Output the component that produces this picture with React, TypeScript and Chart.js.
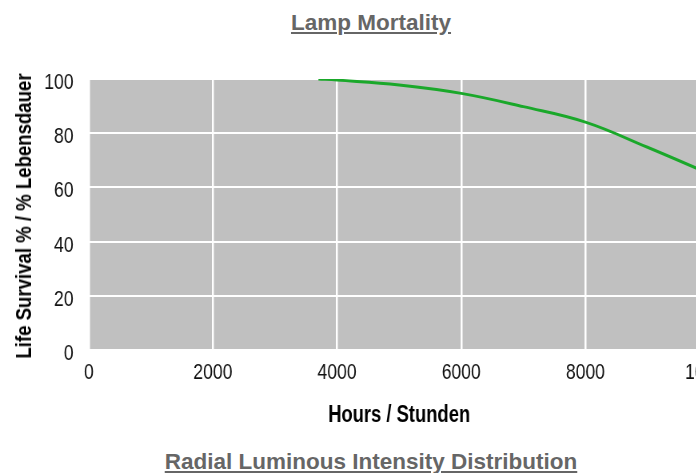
import React, { useEffect, useRef } from "react";
import { Chart, registerables } from "chart.js";

Chart.register(...registerables);

const pageTitle = "Lamp Mortality";
const nextTitle = "Radial Luminous Intensity Distribution";
const xTitle = "Hours / Stunden";
const yTitle = "Life Survival % / % Lebensdauer";

const hours = [3700, 4000, 5000, 6000, 7000, 8000, 9000, 10000];
const survival = [100, 99.6, 97.8, 94.7, 89.8, 84.1, 74.8, 65];

const xMin = 0;
const xMax = 10000;
const xStep = 2000;
const yMin = 0;
const yMax = 100;
const yStep = 20;

// The original chart image uses a condensed face; we draw the canvas wider
// internally and display it narrower to reproduce that look.
const CSS_W = 742;
const CSS_H = 440;
const SQUEEZE = 0.8;
const INT_W = Math.round(CSS_W / SQUEEZE);

const SANS = '"Liberation Sans", Arial, Helvetica, sans-serif';

const plotBg = {
  id: "plotBg",
  beforeDraw(chart: any) {
    const { ctx, chartArea } = chart;
    if (!chartArea) return;
    ctx.save();
    ctx.fillStyle = "#c0c0c0";
    ctx.fillRect(chartArea.left, chartArea.top, chartArea.right - chartArea.left, chartArea.bottom - chartArea.top);
    ctx.restore();
  },
};

export default function App() {
  const ref = useRef<HTMLCanvasElement | null>(null);

  useEffect(() => {
    if (!ref.current) return;
    const points = hours.map((h, i) => ({ x: h, y: survival[i] }));
    const chart = new Chart(ref.current, {
      type: "line",
      data: {
        datasets: [
          {
            data: points,
            borderColor: "#1aa82a",
            borderWidth: 3,
            pointRadius: 0,
            fill: false,
            tension: 0.4,
          },
        ],
      },
      options: {
        animation: false,
        responsive: false,
        devicePixelRatio: 1,
        layout: { padding: { top: 79, right: 35, left: 0, bottom: 0 } },
        plugins: {
          legend: { display: false },
          tooltip: { enabled: false },
          title: { display: false },
        },
        scales: {
          x: {
            type: "linear",
            min: xMin,
            max: xMax,
            grid: { color: "#ffffff", lineWidth: 2.5, drawTicks: false },
            border: { display: false },
            ticks: {
              stepSize: xStep,
              autoSkip: false,
              maxRotation: 0,
              padding: 10,
              color: "#111",
              font: { family: SANS, size: 22 },
              callback: (v: any) => String(v),
            },
            title: {
              display: true,
              text: xTitle,
              color: "#000",
              font: { family: SANS, size: 23, weight: "bold" },
              padding: { top: 4, bottom: 11 },
            },
            afterFit: (s: any) => {
              s.height = 90;
            },
          },
          y: {
            min: yMin,
            max: yMax,
            grid: { color: "#ffffff", lineWidth: 2, drawTicks: false },
            border: { display: false },
            ticks: {
              stepSize: yStep,
              padding: 19,
              labelOffset: 4,
              color: "#111",
              font: { family: SANS, size: 22 },
              callback: (v: any) => String(v),
            },
            title: { display: false },
            afterFit: (s: any) => {
              s.width = 111;
            },
          },
        },
      },
      plugins: [plotBg],
    } as any);
    return () => chart.destroy();
  }, []);

  const titleStyle: React.CSSProperties = {
    position: "absolute",
    left: 0,
    width: 742,
    textAlign: "center",
    fontFamily: SANS,
    fontWeight: "bold",
    fontSize: "22.5px",
    lineHeight: "22.5px",
    color: "#666",
    textDecoration: "underline",
    whiteSpace: "nowrap",
  };

  return (
    <div style={{ position: "fixed", left: 0, top: 0, width: 696, height: 473, overflow: "hidden", background: "#fff" }}>
      <div style={{ position: "relative", width: 742, height: 473 }}>
        <div style={{ ...titleStyle, top: 11.5 }}>{pageTitle}</div>
        <canvas
          ref={ref}
          width={INT_W}
          height={CSS_H}
          style={{ position: "absolute", left: 0, top: 0, width: CSS_W, height: CSS_H }}
        />
        <div
          style={{
            position: "absolute",
            left: 24,
            top: 216,
            transform: "translate(-50%, -50%) rotate(-90deg) scaleX(0.845)",
            fontFamily: SANS,
            fontWeight: "bold",
            fontSize: "22px",
            lineHeight: "22px",
            color: "#000",
            whiteSpace: "nowrap",
          }}
        >
          {yTitle}
        </div>
        <div style={{ ...titleStyle, top: 451 }}>{nextTitle}</div>
      </div>
    </div>
  );
}
